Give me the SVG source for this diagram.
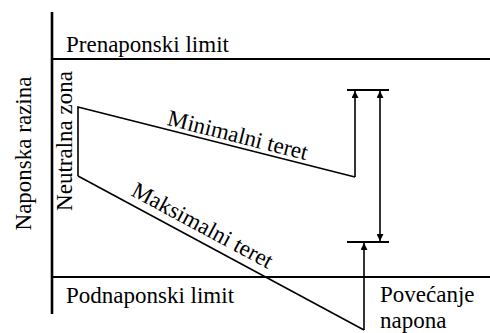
<svg xmlns="http://www.w3.org/2000/svg" width="490" height="333" viewBox="0 0 490 333" font-family="'Liberation Serif', 'DejaVu Serif', serif">
<style>
text { font-family: 'Liberation Serif', 'DejaVu Serif', serif; font-size: 23px; fill: #000; }
.ln { stroke: #000; fill: none; stroke-width: 1.6; }
.axis { stroke: #000; fill: none; stroke-width: 2.6; }
.lim { stroke: #000; fill: none; stroke-width: 2; }
</style>
<defs>
<marker id="ah" viewBox="0 0 10 10" refX="10" refY="5" markerWidth="7" markerHeight="7" markerUnits="userSpaceOnUse" orient="auto-start-reverse">
<path d="M0,0 L10,5 L0,10 Z" fill="#000"/>
</marker>
</defs>
<g id="axes">
<line class="axis" x1="52" y1="12" x2="52" y2="314"/>
<line class="lim" x1="52" y1="59" x2="490" y2="59"/>
<line class="lim" x1="52" y1="277" x2="490" y2="277"/>
<text x="66" y="52">Prenaponski limit</text>
<text x="66" y="303">Podnaponski limit</text>
<text transform="translate(31,153.5) rotate(-90)" text-anchor="middle">Naponska razina</text>
<text transform="translate(72,141) rotate(-90)" text-anchor="middle">Neutralna zona</text>
</g>
<g id="minimal">
<polyline class="ln" points="355,177 78,107 78,176"/>
<text transform="translate(236,142.5) rotate(14.2)" text-anchor="middle">Minimalni teret</text>
</g>
<g id="maximal">
<polyline class="ln" points="78,176 364,330"/>
<text transform="translate(199,232) rotate(28.3)" text-anchor="middle">Maksimalni teret</text>
</g>
<g id="bars">
<line class="lim" x1="347" y1="90" x2="389" y2="90"/>
<line class="lim" x1="347" y1="242" x2="389" y2="242"/>
</g>
<g id="connectors">
<line class="ln" x1="355" y1="177" x2="355" y2="91" marker-end="url(#ah)"/>
<line class="ln" x1="380" y1="91" x2="380" y2="241" marker-start="url(#ah)" marker-end="url(#ah)"/>
<line class="ln" x1="364" y1="330" x2="364" y2="243" marker-end="url(#ah)"/>
</g>
<g id="label-increase">
<text x="380" y="302">Povećanje</text>
<text x="380" y="328">napona</text>
</g>
</svg>
